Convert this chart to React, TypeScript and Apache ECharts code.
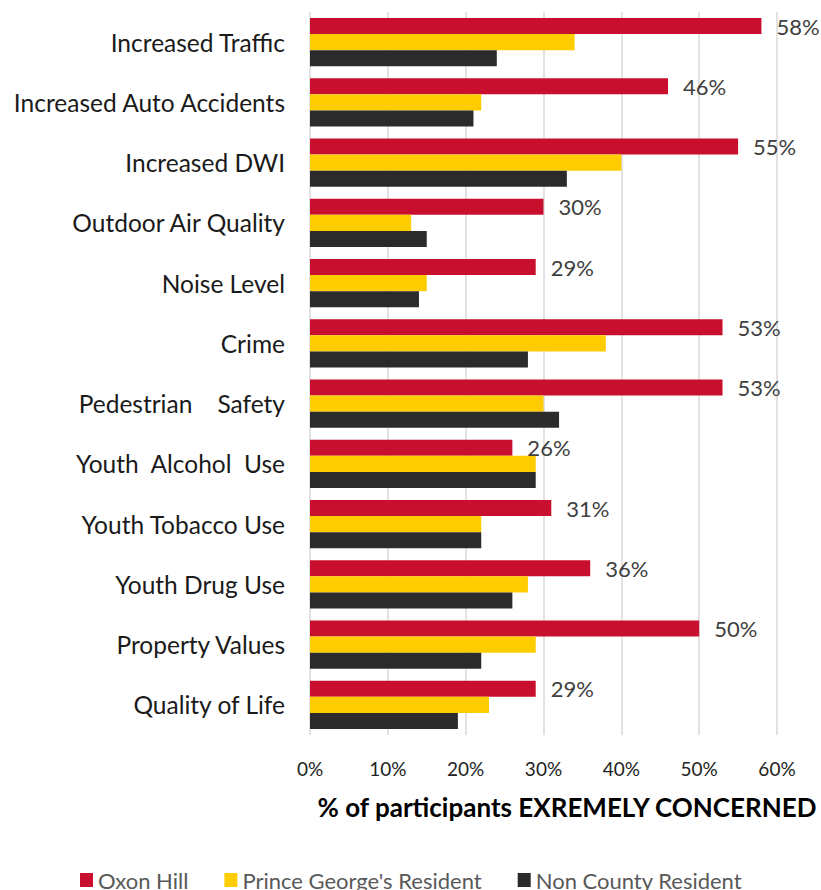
import React, { useEffect, useRef } from "react";
import * as echarts from "echarts";

const categories = [
  "Increased Traffic",
  "Increased Auto Accidents",
  "Increased DWI",
  "Outdoor Air Quality",
  "Noise Level",
  "Crime",
  "Pedestrian    Safety",
  "Youth  Alcohol  Use",
  "Youth Tobacco Use",
  "Youth Drug Use",
  "Property Values",
  "Quality of Life",
];
const oxonHill = [58, 46, 55, 30, 29, 53, 53, 26, 31, 36, 50, 29];
const princeGeorges = [34, 22, 40, 13, 15, 38, 30, 29, 22, 28, 29, 23];
const nonCounty = [24, 21, 33, 15, 14, 28, 32, 29, 22, 26, 22, 19];
const seriesNames = ["Oxon Hill", "Prince George's Resident", "Non County Resident"];
const colors = ["#C8102E", "#FFCC00", "#2B2B2B"];
const xAxisTitle = "% of participants EXREMELY CONCERNED";

const FONT = "Lato";

export default function App() {
  const ref = useRef<HTMLDivElement>(null);
  useEffect(() => {
    if (!ref.current) return;
    const chart = echarts.init(ref.current, undefined, { renderer: "svg" });
    const datasets = [oxonHill, princeGeorges, nonCounty];
    chart.setOption({
      animation: false,
      textStyle: { fontFamily: FONT },
      color: colors,
      grid: { left: 310, right: 44, top: 12, bottom: 155, containLabel: false },
      legend: {
        left: 80,
        top: 869,
        padding: 0,
        itemWidth: 13,
        itemHeight: 14,
        itemGap: 36,
        icon: "rect",
        textStyle: { fontSize: 22, color: "#595959", fontFamily: FONT },
        data: seriesNames,
      },
      xAxis: {
        type: "value",
        min: 0,
        max: 60,
        interval: 10,
        axisLine: { show: false },
        axisTick: { show: false },
        splitLine: { show: true, lineStyle: { color: "#D9D9D9", width: 1.5 } },
        axisLabel: { formatter: "{value}%", fontSize: 19, color: "#222", margin: 24, fontFamily: FONT },
      },
      yAxis: {
        type: "category",
        inverse: true,
        data: categories,
        axisLine: { show: false },
        axisTick: { show: false },
        axisLabel: { fontSize: 24.5, color: "#1a1a1a", margin: 25, fontFamily: FONT },
      },
      graphic: [
        {
          type: "text",
          x: 567,
          y: 807,
          style: {
            text: xAxisTitle,
            textAlign: "center",
            textVerticalAlign: "middle",
            fontSize: 26,
            fontWeight: "bold",
            fill: "#000",
            fontFamily: FONT,
          },
        },
      ],
      series: datasets.map((d, i) => ({
        name: seriesNames[i],
        type: "bar",
        data: d,
        barGap: "0%",
        barCategoryGap: "20%",
        itemStyle: { color: colors[i] },
        label:
          i === 0
            ? {
                show: true,
                position: "right",
                distance: 15,
                formatter: "{c}%",
                fontSize: 22,
                color: "#404040",
                fontFamily: FONT,
              }
            : { show: false },
      })),
    });
    return () => chart.dispose();
  }, []);
  return <div ref={ref} style={{ width: 821, height: 890, position: "absolute", left: 0, top: 0 }} />;
}
